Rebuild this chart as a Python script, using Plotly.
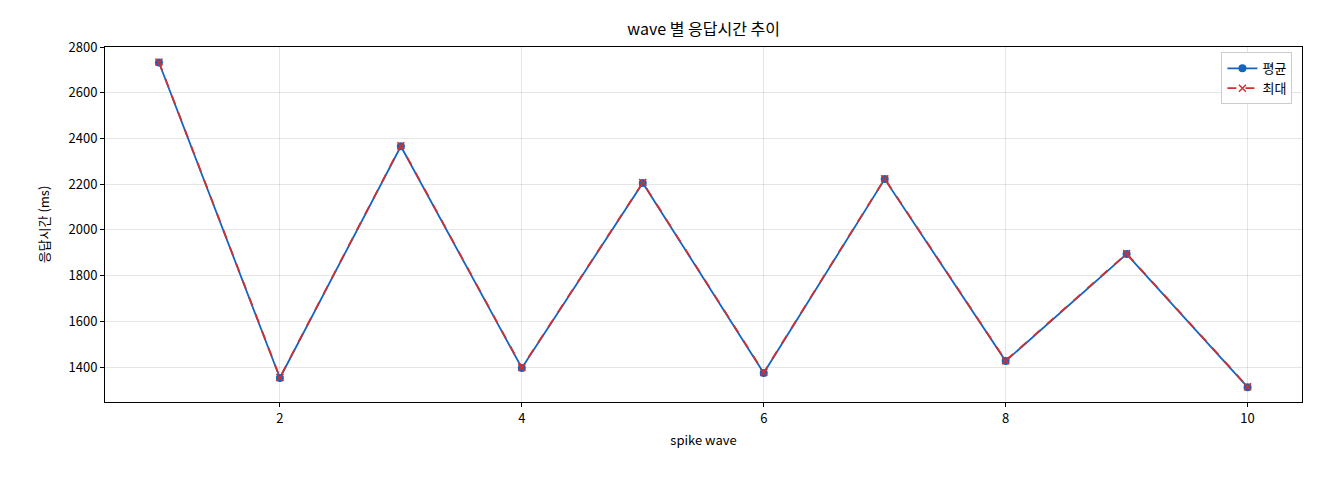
import plotly.graph_objects as go

waves = [1, 2, 3, 4, 5, 6, 7, 8, 9, 10]
avg_ms = [2732, 1352, 2366, 1396, 2205, 1374, 2222, 1426, 1894, 1312]
max_ms = [2734, 1354, 2368, 1398, 2207, 1376, 2224, 1428, 1896, 1314]

fig = go.Figure()
fig.add_trace(go.Scatter(
    x=waves, y=avg_ms, name="평균", mode="lines+markers",
    line=dict(color="#1565c0", width=1.8),
    marker=dict(symbol="circle", size=8, color="#1565c0"),
))
fig.add_trace(go.Scatter(
    x=waves, y=max_ms, name="최대", mode="lines+markers",
    line=dict(color="#d32f2f", width=1.8, dash="dash"),
    marker=dict(symbol="x-thin", size=7, color="#d32f2f",
                line=dict(color="#d32f2f", width=1.5)),
))

axis_common = dict(
    showline=True, linecolor="black", mirror=True, ticks="outside",
    ticklen=4, tickcolor="black", gridcolor="rgba(0,0,0,0.1)", zeroline=False,
    tickfont=dict(size=13, color="black"), automargin=False,
)
fig.update_layout(
    width=1320, height=480,
    paper_bgcolor="white", plot_bgcolor="white",
    font=dict(family="Noto Sans CJK KR", color="black"),
    title=dict(text="wave 별 응답시간 추이", x=0.527, xanchor="center",
               y=0.955, yanchor="middle", font=dict(size=16)),
    margin=dict(l=97, r=26, t=39, b=86, autoexpand=False),
    showlegend=True,
    legend=dict(x=0.992, y=0.985, xanchor="right", yanchor="top",
                bordercolor="#cccccc", borderwidth=1, bgcolor="white",
                font=dict(size=13)),
    xaxis=dict(title=dict(text="spike wave", font=dict(size=13), standoff=10),
               range=[0.554, 10.45], tickvals=[2, 4, 6, 8, 10], **axis_common),
    yaxis=dict(title=dict(text="응답시간 (ms)", font=dict(size=13)),
               range=[1247, 2800], dtick=200, **axis_common),
)

fig.write_html("out.html")
